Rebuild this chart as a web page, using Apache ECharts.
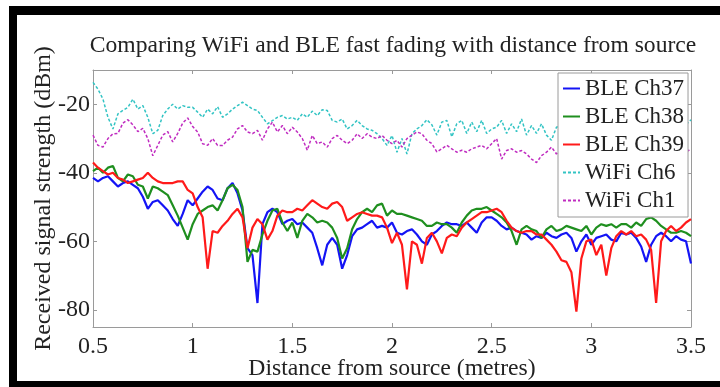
<!DOCTYPE html>
<html>
<head>
<meta charset="utf-8">
<script src="https://cdn.jsdelivr.net/npm/echarts@6/dist/echarts.min.js"></script>
<style>
  html, body { margin: 0; padding: 0; background: #fff; }
  #chart { width: 720px; height: 387px; }
</style>
</head>
<body>
<div id="chart"></div>
<script>
// sampling grid along the distance axis (metres), every 0.025 m
const distance = Array.from({ length: 121 }, (_, i) => +(0.5 + i * 0.025).toFixed(3));

const ble37 = [
  -41.5, -42.5, -41.5, -41, -42.5, -44, -43, -42.5, -43.5, -44.5, -47, -50.5, -48.5, -48, -49.5, -51, -53.5, -55.5, -52, -48, -49.5,
  -47.5, -45.5, -44, -45, -47.5, -48, -44.5, -43, -46, -51, -62, -64, -78, -55, -51.5, -50.5, -51.5, -55, -54,
  -53.5, -55, -54.5, -56, -57.5, -62, -67, -61, -59, -61, -68, -64, -58.5, -56.5, -56, -55, -54, -56, -55.5, -56,
  -54.5, -57.5, -58, -57, -56.5, -58, -60, -61, -58, -57, -55.5, -54.5, -55, -55, -55.5, -54.5, -56, -57.5, -54.5, -53,
  -53, -54, -55.5, -56.5, -56, -57, -57.5, -58, -59.5, -58.5, -59, -57.5, -58.5, -59, -58, -57.5, -59, -63, -60, -58,
  -61, -59, -58.5, -58, -59.5, -60, -57.5, -58, -57.5, -59, -61.5, -66, -61, -58.5, -57.5, -58.5, -60, -58.5, -59.5, -60, -66.5
];
const ble38 = [
  -39.5, -38.5, -40, -38.5, -38, -41.5, -42.5, -40.5, -41, -43.5, -44, -47.5, -44, -44.5, -45.5, -46.5, -49.5, -52.5, -56, -59.5, -55,
  -52, -51, -50, -49.5, -51, -48, -44.5, -43.5, -45, -50, -66, -62.5, -63, -58, -54, -51, -50.5, -54.5, -57,
  -54.5, -59, -54, -52, -53, -54.5, -54, -54.5, -56, -59, -65, -62, -56.5, -53.5, -51.5, -50.5, -51.5, -49.5, -49, -52.5,
  -51, -52, -52, -52.5, -53, -53.5, -54, -55.5, -55.5, -54.5, -55, -55, -56, -57.5, -54.5, -52.5, -51, -50.5, -50.5, -50,
  -51, -52, -53, -54.5, -57, -61, -56.5, -55.5, -56.5, -57, -59, -56.5, -55.5, -57, -56.5, -55.5, -56, -56.5, -57, -55.5,
  -58, -56, -55, -55.5, -55, -56, -55, -55, -56, -54.5, -55.5, -53.5, -53, -54, -55.5, -56.5, -57.5, -57.5, -57, -57.5, -58.5
];
const ble39 = [
  -37, -38.5, -39.5, -40.5, -40, -41.5, -42, -43, -42.5, -42, -41.5, -40, -41.5, -42.5, -43, -43, -43, -42.5, -42.5, -45, -46,
  -50, -53, -68, -57, -57.5, -55.5, -54, -52, -50.5, -53, -62, -56, -53.5, -55, -59.5, -57, -52.5, -51, -51.5,
  -51.5, -50.5, -51, -49.5, -48, -49, -50, -50.5, -49, -48.5, -50, -54, -53, -52, -51.5, -52, -52.5, -52.5, -53, -56,
  -60.5, -57.5, -61, -74, -60, -61, -66.5, -59, -57.5, -60, -63.5, -59, -58, -58.5, -56, -54.5, -53.5, -52.5, -51.5, -51.5,
  -51, -50.5, -51.5, -54, -56, -57, -57.5, -57, -57, -58, -58, -59.5, -61, -63, -65.5, -66, -69, -80.5, -65, -60,
  -59.5, -64, -61, -70, -62, -58.5, -57, -58, -57, -58.5, -58, -59.5, -62.5, -78, -60, -57, -55.5, -57, -56, -54.5, -53.5
];
const wifi6 = [
  -13.6, -15.6, -18.5, -23.8, -27.2, -22.8, -21.8, -20.9, -18.5, -21.4, -20.4, -23.8, -28.6, -27.6, -23.3, -21.4, -20, -21.4, -20.4, -20.9, -20.9,
  -22.3, -23.8, -21.4, -22.8, -20.7, -23.8, -22.8, -21.4, -20.4, -19.4, -20.4, -21.4, -21.8, -23.8, -25.7, -24.8, -23.8, -23.3, -24.3,
  -23.8, -24.7, -22.8, -23.8, -22, -23.3, -21.6, -21.8, -24.7, -25.2, -24.3, -27.2, -26.2, -24.7, -26.2, -27.2, -27.6, -28.6, -30, -32,
  -29.1, -34, -30, -34.5, -28.6, -27.2, -26.2, -24.5, -26, -29, -25.2, -24.7, -29.5, -25.7, -24.7, -28.5, -25.2, -28, -24.7, -28.5,
  -27.2, -26.7, -24.7, -28.5, -25.7, -28, -24.3, -29, -26.2, -28.5, -25.7, -29, -30.5, -26.7,
  -26, -28, -25, -27.5, -24.5, -26, -28, -25.5, -27, -24.5, -26.5, -28.5, -25, -27, -25.5, -24, -26.5, -28, -25.5, -27,
  -24.5, -26, -25.5, -27.5, -25, -26, -24.5
];
const wifi1 = [
  -29, -32, -32.5, -30, -28.6, -28.5, -25.5, -24.5, -26, -28, -27, -30, -35, -32, -29, -28, -31, -28.5, -25.5, -24, -26.5,
  -28.1, -31.5, -32, -30, -32, -32, -30.5, -29.6, -27.2, -26.2, -28.1, -28.6, -27.6, -30.5, -27.2, -25.2, -28.1, -26.2, -28.6,
  -26.7, -28.1, -30, -33.4, -29.1, -31.5, -31, -32.5, -30, -29.1, -30.5, -31.5, -30.5, -28.6, -30, -28.6, -29.6, -30, -29.1, -30.5,
  -31.5, -30.5, -32.5, -30, -29, -28.1, -28.6, -30.5, -31.5, -33.9, -33, -32, -33, -34, -33.4, -34, -33, -32.5, -32, -33,
  -31.5, -30, -36, -33.5, -33, -34, -33.5, -34.5, -36, -37, -35, -34, -32.5, -34.5,
  -33, -35, -32.5, -34, -33.5, -35.5, -33, -32, -34, -35, -33, -32.5, -34.5, -33.5, -35, -33, -32, -34, -33.5, -35,
  -33, -34, -32.5, -34, -33.5, -34, -33
];

const seriesNames = ['BLE Ch37', 'BLE Ch38', 'BLE Ch39', 'WiFi Ch6', 'WiFi Ch1'];
const yTicks = [-80, -60, -40, -20];

const FONT = 'Liberation Serif';
const AXIS_GREY = '#9a9a9a';

const chart = echarts.init(document.getElementById('chart'));

const pairs = (vals) => distance.map((d, i) => [d, vals[i]]);

const lineSeries = (name, vals, color, width, dashed) => ({
  name,
  type: 'line',
  data: pairs(vals),
  symbol: 'none',
  showSymbol: false,
  itemStyle: { color },
  lineStyle: { color, width, type: dashed ? [3, 2] : 'solid' },
  animation: false,
});

const xCommon = {
  type: 'value',
  min: 0.5,
  max: 3.5,
  interval: 0.5,
  axisLine: { show: true, lineStyle: { color: AXIS_GREY, width: 1 } },
  axisTick: { show: true, inside: true, length: 4, lineStyle: { color: AXIS_GREY } },
  splitLine: { show: false },
};
const yCommon = {
  type: 'value',
  min: -85,
  max: -10,
  axisLine: { show: true, lineStyle: { color: AXIS_GREY, width: 1 } },
  axisTick: { show: true, inside: true, length: 4, customValues: yTicks, lineStyle: { color: AXIS_GREY } },
  splitLine: { show: false },
};

const option = {
  animation: false,
  backgroundColor: '#fff',
  title: {
    text: 'Comparing WiFi and BLE fast fading with distance from source',
    left: 388,
    top: 29,
    textAlign: 'center',
    textStyle: { fontFamily: FONT, fontSize: 23.6, fontWeight: 'normal', color: '#222' },
  },
  legend: {
    orient: 'vertical',
    left: 558,
    top: 73,
    padding: [4, 4, 5, 4],
    itemGap: 5,
    itemWidth: 17,
    itemHeight: 2,
    itemStyle: { opacity: 0 },
    backgroundColor: '#fff',
    borderColor: AXIS_GREY,
    borderWidth: 1,
    borderRadius: 0,
    textStyle: { fontFamily: FONT, fontSize: 23, color: '#222' },
    data: seriesNames,
  },
  grid: { left: 93, right: 29, top: 70, bottom: 60 },
  xAxis: [
    Object.assign({}, xCommon, {
      position: 'bottom',
      name: 'Distance from source (metres)',
      nameLocation: 'middle',
      nameGap: 30,
      nameMoveOverlap: false,
      nameTextStyle: { fontFamily: FONT, fontSize: 23.7, color: '#222' },
      axisLabel: { margin: 8, fontFamily: FONT, fontSize: 24, color: '#222' },
    }),
    Object.assign({}, xCommon, { position: 'top', axisLabel: { show: false } }),
  ],
  yAxis: [
    Object.assign({}, yCommon, {
      position: 'left',
      name: 'Received signal strength (dBm)',
      nameLocation: 'middle',
      nameGap: 37,
      nameMoveOverlap: false,
      nameTextStyle: { fontFamily: FONT, fontSize: 24, color: '#222' },
      axisLabel: { margin: 3, customValues: yTicks, fontFamily: FONT, fontSize: 24, color: '#222' },
    }),
    Object.assign({}, yCommon, { position: 'right', axisLabel: { show: false } }),
  ],
  series: [
    lineSeries(seriesNames[0], ble37, '#1414f5', 2.2, false),
    lineSeries(seriesNames[1], ble38, '#1f8f1f', 2.2, false),
    lineSeries(seriesNames[2], ble39, '#ff1a1a', 2.2, false),
    lineSeries(seriesNames[3], wifi6, '#33c4c4', 1.5, true),
    lineSeries(seriesNames[4], wifi1, '#c02cc0', 1.5, true),
  ],
  graphic: [
    // black frame around the figure (open on the right, as in the scan)
    { type: 'rect', shape: { x: 9, y: 6, width: 711, height: 9 }, style: { fill: '#000' }, z: 100 },
    { type: 'rect', shape: { x: 9, y: 6, width: 8, height: 381 }, style: { fill: '#000' }, z: 100 },
    { type: 'rect', shape: { x: 9, y: 381, width: 711, height: 6 }, style: { fill: '#000' }, z: 100 },
  ],
};

chart.setOption(option);
window.addEventListener('resize', () => chart.resize());
</script>
</body>
</html>
